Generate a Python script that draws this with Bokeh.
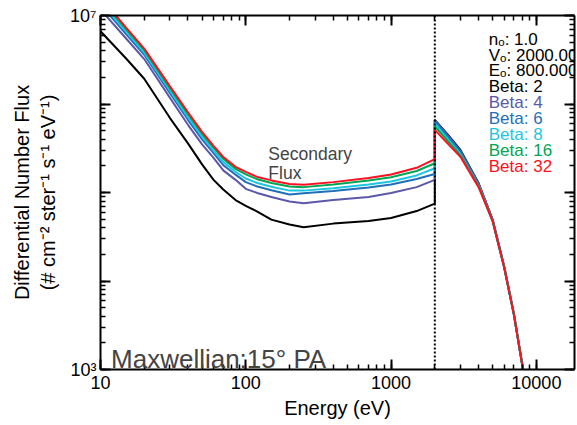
from bokeh.plotting import figure
from bokeh.models import (LogAxis, LogTicker, Range1d, Span, Label,
                          CustomJSTickFormatter, LogTickFormatter)
from bokeh.embed import file_html
from bokeh.resources import INLINE

# ---- data ----
energy = [10, 15, 20, 30, 40, 50, 60, 70, 85, 100, 120, 150, 200, 250, 400, 700, 1000, 1500,
          2000, 2000, 2500, 3000, 4000, 5000, 6000, 7000, 8000, 9000]
beta2 = [6.64e6, 3.27e6, 1.93e6, 6.98e5, 3.59e5, 2.08e5, 1.39e5, 1.08e5, 8.22e4, 7.08e4, 6.09e4,
         4.94e4, 4.34e4, 4.06e4, 4.45e4, 4.76e4, 5.14e4, 6.17e4,
         7.50e4, 6.63e5, 4.37e5, 3.03e5, 1.28e5, 4.94e4, 1.47e4, 4.26e3, 1.14e3, 343]
beta4 = [1.17e7, 5.50e6, 3.22e6, 1.18e6, 5.82e5, 3.50e5, 2.46e5, 1.78e5, 1.39e5, 1.10e5, 9.87e4,
         8.89e4, 7.91e4, 7.55e4, 8.23e4, 8.89e4, 9.87e4, 1.15e5,
         1.39e5, 6.55e5, 4.27e5, 2.95e5, 1.27e5, 4.88e4, 1.45e4, 4.26e3, 1.14e3, 343]
beta6 = [1.33e7, 6.17e6, 3.60e6, 1.33e6, 6.63e5, 3.99e5, 2.79e5, 2.04e5, 1.59e5, 1.31e5, 1.17e5,
         1.06e5, 9.49e4, 9.79e4, 1.04e5, 1.14e5, 1.23e5, 1.42e5,
         1.62e5, 6.38e5, 4.09e5, 2.84e5, 1.23e5, 4.82e4, 1.45e4, 4.20e3, 1.12e3, 339]
beta8 = [1.42e7, 6.57e6, 3.81e6, 1.42e6, 7.11e5, 4.28e5, 2.98e5, 2.21e5, 1.71e5, 1.44e5, 1.28e5,
         1.16e5, 1.05e5, 1.05e5, 1.12e5, 1.23e5, 1.33e5, 1.56e5,
         1.88e5, 6.05e5, 3.88e5, 2.73e5, 1.20e5, 4.75e4, 1.43e4, 4.20e3, 1.11e3, 334]
beta16 = [1.53e7, 7.01e6, 4.06e6, 1.52e6, 7.67e5, 4.61e5, 3.21e5, 2.40e5, 1.85e5, 1.60e5, 1.41e5,
          1.28e5, 1.17e5, 1.15e5, 1.23e5, 1.37e5, 1.49e5, 1.75e5,
          2.14e5, 5.60e5, 3.69e5, 2.63e5, 1.19e5, 4.75e4, 1.43e4, 4.20e3, 1.11e3, 334]
beta32 = [1.60e7, 7.31e6, 4.23e6, 1.59e6, 8.07e5, 4.85e5, 3.37e5, 2.52e5, 1.95e5, 1.71e5, 1.50e5,
          1.37e5, 1.25e5, 1.22e5, 1.31e5, 1.46e5, 1.60e5, 1.90e5,
          2.38e5, 5.10e5, 3.45e5, 2.53e5, 1.15e5, 4.75e4, 1.43e4, 4.20e3, 1.11e3, 334]

series = [("Beta: 2", beta2, "#000000"),
          ("Beta: 4", beta4, "#5a58a8"),
          ("Beta: 6", beta6, "#1f6fba"),
          ("Beta: 8", beta8, "#1cc6e3"),
          ("Beta: 16", beta16, "#00a654"),
          ("Beta: 32", beta32, "#ff1020")]
params = ["n\u2092: 1.0", "V\u2092: 2000.00", "E\u2092: 800.000"]
beam_energy = 2000

FONT = "Liberation Sans"

p = figure(width=577, height=425, x_axis_type="log", y_axis_type="log",
           x_range=Range1d(10, 18300), y_range=Range1d(1e3, 1e7),
           output_backend="svg", toolbar_location=None,
           min_border_left=100, min_border_right=1, min_border_top=15, min_border_bottom=56,
           background_fill_color="white", border_fill_color="white")
p.xgrid.visible = False
p.ygrid.visible = False
p.outline_line_color = None

BLANK = CustomJSTickFormatter(code='return " ";')

def style(ax, labels=True):
    ax.axis_line_width = 2
    ax.axis_line_color = "black"
    ax.major_tick_in = 10
    ax.major_tick_out = 0
    ax.minor_tick_in = 5
    ax.minor_tick_out = 0
    ax.major_tick_line_width = 2
    ax.minor_tick_line_width = 1.5
    ax.major_tick_line_color = "black"
    ax.minor_tick_line_color = "black"
    ax.major_label_text_font = FONT
    ax.major_label_text_color = "black"
    ax.axis_label_text_font = FONT
    ax.axis_label_text_font_style = "normal"
    ax.axis_label_text_color = "black"
    if labels:
        ax.major_label_text_font_size = "18px"
        ax.axis_label_text_font_size = "20px"
    else:
        ax.formatter = BLANK
        ax.major_label_text_font_size = "1px"
        ax.major_label_standoff = 0

xt = LogTicker(num_minor_ticks=10)
yt = LogTicker(num_minor_ticks=10)

xa = p.xaxis[0]
xa.ticker = xt
xa.formatter = LogTickFormatter(min_exponent=6)
xa.axis_label = "Energy (eV)"
style(xa)
xa.major_label_standoff = 6
xa.axis_label_standoff = 5

ya = p.yaxis[0]
ya.ticker = yt
ya.formatter = CustomJSTickFormatter(code="""
const e = Math.round(Math.log10(tick));
if (e == 7) return "10\u2077";
if (e == 3) return "10\u00b3";
return " ";
""")
ya.axis_label = "Differential Number Flux\n(# cm\u207b\u00b2 ster\u207b\u00b9 s\u207b\u00b9 eV\u207b\u00b9)"
style(ya)
ya.major_label_standoff = 4
ya.axis_label_standoff = 8

top = LogAxis(ticker=xt)
style(top, labels=False)
p.add_layout(top, "above")
right = LogAxis(ticker=yt)
style(right, labels=False)
p.add_layout(right, "right")

p.add_layout(Span(location=beam_energy, dimension="height", line_color="black",
                  line_width=2, line_dash="2 2"))

for name, vals, col in series:
    p.line(energy, vals, line_color=col, line_width=2)

# helpers to place text at frame pixel positions (frame top=15, 88.25 px / decade)
def ydat(ypix):
    return 10 ** (7 - (ypix - 16) / 88.25)

def xdat(xpix):
    return 10 ** (1 + (xpix - 100.5) / 145.0)

legend_x = xdat(488)
rows = params + [s[0] for s in series]
cols = ["black"] * 3 + [s[2] for s in series]
for i, (t, c) in enumerate(zip(rows, cols)):
    p.add_layout(Label(x=legend_x, y=ydat(39.5 + i * 15.9), text=t, text_color=c,
                       text_font=FONT, text_font_size="17px", text_baseline="alphabetic"))

p.add_layout(Label(x=xdat(268), y=ydat(154), text="Secondary", text_font=FONT,
                   text_font_size="17.5px", text_baseline="alphabetic"))
p.add_layout(Label(x=xdat(268), y=ydat(173), text="Flux", text_font=FONT,
                   text_font_size="17.5px", text_baseline="alphabetic"))
p.add_layout(Label(x=xdat(111), y=ydat(359), text="Maxwellian:15\u00b0 PA", text_font=FONT,
                   text_font_size="26px", text_baseline="alphabetic"))

open("out.html", "w").write(file_html(p, INLINE))
